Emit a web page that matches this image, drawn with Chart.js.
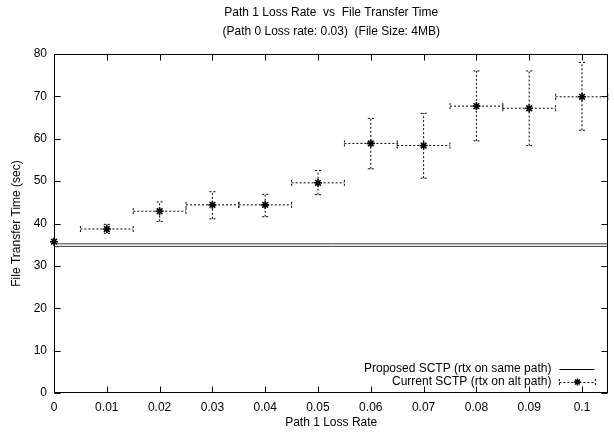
<!DOCTYPE html>
<html><head><meta charset="utf-8">
<script src="https://cdn.jsdelivr.net/npm/chart.js@4.4.0/dist/chart.umd.min.js"></script>
<style>html,body{margin:0;padding:0;background:#fff}#wrap{width:614px;height:433px}</style>
</head><body><div id="wrap"><canvas id="c" width="614" height="433"></canvas></div>
<script>
const chartTitle = 'Path 1 Loss Rate  vs  File Transfer Time';
const chartSubtitle = '(Path 0 Loss rate: 0.03)  (File Size: 4MB)';
const xAxisTitle = 'Path 1 Loss Rate';
const yAxisTitle = 'File Transfer Time (sec)';
const seriesNames = ['Proposed SCTP (rtx on same path)', 'Current SCTP (rtx on alt path)'];

// Current SCTP measurements
const lossRates   = [0, 0.01, 0.02, 0.03, 0.04, 0.05, 0.06, 0.07, 0.08, 0.09, 0.1];
const lossLow     = [0, 0.005, 0.015, 0.025, 0.035, 0.045, 0.055, 0.065, 0.075, 0.085, 0.095];
const lossHigh    = [0, 0.015, 0.025, 0.035, 0.045, 0.055, 0.065, 0.075, 0.085, 0.095, 0.105];
const currentTime = [35.7, 38.7, 42.9, 44.4, 44.4, 49.6, 58.9, 58.4, 67.7, 67.2, 69.9];
const currentLow  = [35.7, 37.7, 40.5, 41.1, 41.6, 46.8, 52.9, 50.7, 59.5, 58.4, 62.0];
const currentHigh = [35.7, 39.8, 45.1, 47.5, 46.9, 52.5, 64.8, 66.0, 76.0, 76.0, 78.0];

// Proposed SCTP (constant lines)
const proposedX     = [0, 0.105];
const proposedUpper = [35.2, 35.2];
const proposedLower = [34.6, 34.6];

const xTicksMin = 0, xTicksMax = 0.105, xStep = 0.01;
const yTicksMin = 0, yTicksMax = 80, yStep = 10;

const FONT = "'Liberation Sans', Arial, Helvetica, sans-serif";
const FS = 12;

function dashedLine(ctx, x1, y1, x2, y2) {
  ctx.beginPath(); ctx.moveTo(x1, y1); ctx.lineTo(x2, y2); ctx.stroke();
}

const decor = {
  id: 'decor',
  beforeDatasetsDraw(chart) {
    const ctx = chart.ctx, xs = chart.scales.x, ys = chart.scales.y, a = chart.chartArea;
    ctx.save();
    ctx.beginPath(); ctx.rect(a.left, a.top, a.right - a.left, a.bottom - a.top); ctx.clip();
    ctx.strokeStyle = '#000'; ctx.lineWidth = 1; ctx.setLineDash([2, 2]);
    for (let i = 0; i < lossRates.length; i++) {
      const px = xs.getPixelForValue(lossRates[i]);
      const py = ys.getPixelForValue(currentTime[i]);
      if (lossHigh[i] > lossLow[i]) {
        const xl = xs.getPixelForValue(lossLow[i]), xh = xs.getPixelForValue(lossHigh[i]);
        dashedLine(ctx, xl, py, xh, py);
        dashedLine(ctx, xl, py - 3, xl, py + 3);
        dashedLine(ctx, xh, py - 3, xh, py + 3);
      }
      if (currentHigh[i] > currentLow[i]) {
        const yl = ys.getPixelForValue(currentLow[i]), yh = ys.getPixelForValue(currentHigh[i]);
        dashedLine(ctx, px, yl, px, yh);
        dashedLine(ctx, px - 3, yl, px + 3, yl);
        dashedLine(ctx, px - 3, yh, px + 3, yh);
      }
    }
    ctx.restore();
  },
  afterDraw(chart) {
    const ctx = chart.ctx, xs = chart.scales.x, ys = chart.scales.y, a = chart.chartArea;
    ctx.save();
    // frame
    ctx.strokeStyle = '#000'; ctx.lineWidth = 1; ctx.setLineDash([]);
    const L = Math.round(a.left) + 0.5, R = Math.round(a.right) - 0.5, T = Math.round(a.top) + 0.5, B = Math.round(a.bottom) - 0.5;
    ctx.strokeRect(L, T, R - L, B - T);
    // inward ticks
    ctx.beginPath();
    xs.ticks.forEach(t => {
      const x = Math.round(xs.getPixelForValue(t.value)) + 0.5;
      ctx.moveTo(x, B); ctx.lineTo(x, B - 6);
      ctx.moveTo(x, T); ctx.lineTo(x, T + 6);
    });
    ys.ticks.forEach(t => {
      const y = Math.round(ys.getPixelForValue(t.value)) + 0.5;
      ctx.moveTo(L, y); ctx.lineTo(L + 6, y);
      ctx.moveTo(R, y); ctx.lineTo(R - 6, y);
    });
    ctx.stroke();
    // titles
    ctx.fillStyle = '#000';
    ctx.font = FS + 'px ' + FONT;
    ctx.textAlign = 'center'; ctx.textBaseline = 'middle';
    const cx = (a.left + a.right) / 2;
    ctx.fillText(chartTitle, cx, 13);
    ctx.fillText(chartSubtitle, cx, 32);
    ctx.fillText(xAxisTitle, cx, 423);
    ctx.save();
    ctx.translate(17, (a.top + a.bottom) / 2);
    ctx.rotate(-Math.PI / 2);
    ctx.fillText(yAxisTitle, 0, 0);
    ctx.restore();
    // legend
    ctx.textAlign = 'right';
    const lx = a.right - 57, y1 = 369, y2 = 382;
    ctx.fillText(seriesNames[0], lx, y1);
    ctx.fillText(seriesNames[1], lx, y2);
    ctx.beginPath(); ctx.moveTo(lx + 8, y1 + 0.5); ctx.lineTo(lx + 43, y1 + 0.5); ctx.stroke();
    ctx.setLineDash([2, 2]);
    ctx.beginPath(); ctx.moveTo(lx + 8, y2 + 0.5); ctx.lineTo(lx + 44, y2 + 0.5); ctx.stroke();
    ctx.beginPath(); ctx.moveTo(lx + 8, y2 - 3); ctx.lineTo(lx + 8, y2 + 3);
    ctx.moveTo(lx + 44, y2 - 3); ctx.lineTo(lx + 44, y2 + 3); ctx.stroke();
    ctx.setLineDash([]);
    // star marker
    const sx = lx + 26, r = 3.5;
    ctx.lineWidth = 1.5;
    ctx.beginPath();
    ctx.moveTo(sx - r, y2); ctx.lineTo(sx + r, y2);
    ctx.moveTo(sx, y2 - r); ctx.lineTo(sx, y2 + r);
    ctx.moveTo(sx - r * 0.7, y2 - r * 0.7); ctx.lineTo(sx + r * 0.7, y2 + r * 0.7);
    ctx.moveTo(sx - r * 0.7, y2 + r * 0.7); ctx.lineTo(sx + r * 0.7, y2 - r * 0.7);
    ctx.stroke();
    ctx.restore();
  }
};

const fmtX = v => (Math.abs(v) < 1e-9 ? '0' : String(+v.toFixed(2)));

new Chart(document.getElementById('c'), {
  type: 'scatter',
  data: {
    datasets: [
      {
        label: seriesNames[0], type: 'line',
        data: proposedX.map((x, i) => ({ x, y: proposedUpper[i] })),
        borderColor: '#3a3a3a', borderWidth: 1, pointRadius: 0, fill: false
      },
      {
        label: seriesNames[0] + ' (2)', type: 'line',
        data: proposedX.map((x, i) => ({ x, y: proposedLower[i] })),
        borderColor: '#3a3a3a', borderWidth: 1, pointRadius: 0, fill: false
      },
      {
        label: seriesNames[1],
        data: lossRates.map((x, i) => ({ x, y: currentTime[i] })),
        showLine: false, pointStyle: 'star', pointRadius: 4, pointBorderWidth: 1.6,
        borderColor: '#000', backgroundColor: '#000', clip: false
      }
    ]
  },
  options: {
    responsive: false, animation: false, devicePixelRatio: 1,
    layout: { padding: { top: 54, right: 4, left: 0, bottom: 0 } },
    plugins: { legend: { display: false }, title: { display: false }, tooltip: { enabled: false } },
    scales: {
      x: {
        type: 'linear', min: xTicksMin, max: xTicksMax,
        grid: { display: false, drawTicks: false }, border: { display: false },
        ticks: { stepSize: xStep, includeBounds: false, autoSkip: false, maxRotation: 0,
                 padding: 7, color: '#000', font: { family: FONT, size: FS }, callback: v => fmtX(v) },
        afterFit: s => { s.height = 40; }
      },
      y: {
        type: 'linear', min: yTicksMin, max: yTicksMax,
        grid: { display: false, drawTicks: false }, border: { display: false },
        ticks: { stepSize: yStep, padding: 7, color: '#000', font: { family: FONT, size: FS } },
        afterFit: s => { s.width = 54; }
      }
    }
  },
  plugins: [decor]
});
</script>
</body></html>
